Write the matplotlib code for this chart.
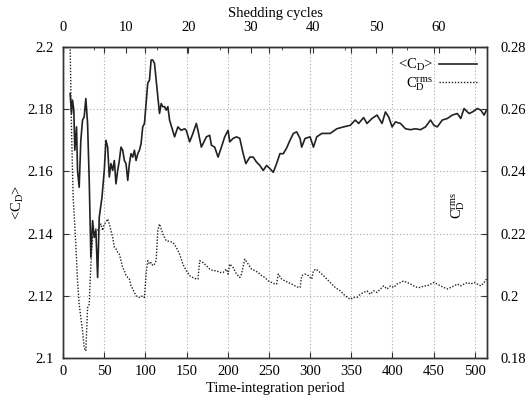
import matplotlib
matplotlib.use("Agg")
import matplotlib.pyplot as plt
from matplotlib.ticker import MultipleLocator, FixedLocator

plt.rcParams['font.family'] = ['Liberation Serif', 'DejaVu Serif']
plt.rcParams['mathtext.fontset'] = 'custom'
plt.rcParams['mathtext.rm'] = 'Liberation Serif'
plt.rcParams['mathtext.it'] = 'Liberation Serif:italic'
plt.rcParams['font.size'] = 10.5

# time-averaged drag coefficient <C_D> (left axis)
t_mean = [8.5, 10.2, 11.4, 13.0, 14.2, 16.3, 17.5, 19.5, 21.5, 23.6, 25.6, 27.6,
          29.7, 31.7, 33.7, 35.8, 37.8, 39.8, 41.9, 43.9, 47.2, 50.0, 52.0, 54.1,
          56.1, 58.1, 60.2, 62.2, 64.2, 66.3, 68.3, 70.3, 72.4, 74.4, 76.4, 78.5,
          80.5, 82.5, 84.6, 86.6, 88.6, 90.7, 92.7, 94.7, 96.7, 98.8, 100.8, 102.8,
          104.9, 106.9, 108.9, 111.0, 113.0, 115.0, 117.1, 119.1, 121.1, 123.2,
          125.2, 127.2, 129.3, 135.4, 139.4, 143.5, 147.6, 149.6, 153.7, 157.7,
          161.8, 163.8, 167.9, 170.0, 174.0, 178.1, 180.1, 184.1, 188.2, 192.3,
          196.3, 200.4, 202.4, 206.5, 210.6, 214.6, 218.7, 222.0, 226.8, 230.9,
          234.9, 239.0, 243.1, 247.2, 251.2, 255.3, 259.3, 263.4, 267.5, 271.5,
          275.6, 279.7, 283.7, 287.8, 289.8, 293.9, 300.0, 304.1, 308.1, 314.2,
          324.4, 332.5, 340.7, 348.8, 354.9, 359.0, 365.0, 369.1, 375.2, 381.3,
          387.4, 391.5, 395.5, 399.6, 403.7, 409.8, 415.9, 422.0, 428.0, 434.1,
          440.2, 446.3, 450.4, 454.5, 460.6, 466.7, 472.8, 478.9, 483.0, 487.0,
          493.1, 497.2, 503.3, 507.3, 511.4, 514.2]
cd_mean = [2.1850, 2.1786, 2.1829, 2.1797, 2.1668, 2.1743, 2.1603, 2.1549, 2.1700,
           2.1765, 2.1775, 2.1834, 2.1754, 2.1571, 2.1324, 2.1442, 2.1388, 2.1410,
           2.1259, 2.1453, 2.1517, 2.1603, 2.1700, 2.1678, 2.1582, 2.1625, 2.1603,
           2.1635, 2.1560, 2.1603, 2.1635, 2.1678, 2.1668, 2.1635, 2.1625, 2.1571,
           2.1625, 2.1657, 2.1646, 2.1668, 2.1635, 2.1657, 2.1668, 2.1689, 2.1743,
           2.1754, 2.1818, 2.1883, 2.1894, 2.1958, 2.1958, 2.1947, 2.1894, 2.1840,
           2.1786, 2.1818, 2.1808, 2.1808, 2.1797, 2.1808, 2.1765, 2.1711, 2.1743,
           2.1732, 2.1737, 2.1732, 2.1695, 2.1722, 2.1754, 2.1732, 2.1678, 2.1689,
           2.1711, 2.1716, 2.1684, 2.1678, 2.1646, 2.1678, 2.1711, 2.1732, 2.1695,
           2.1706, 2.1711, 2.1706, 2.1657, 2.1625, 2.1646, 2.1646, 2.1630, 2.1619,
           2.1603, 2.1619, 2.1609, 2.1597, 2.1625, 2.1657, 2.1657, 2.1675, 2.1700,
           2.1722, 2.1727, 2.1706, 2.1678, 2.1706, 2.1711, 2.1678, 2.1711, 2.1722,
           2.1722, 2.1737, 2.1743, 2.1748, 2.1765, 2.1754, 2.1773, 2.1754, 2.1770,
           2.1781, 2.1754, 2.1791, 2.1775, 2.1743, 2.1759, 2.1754, 2.1737, 2.1734,
           2.1737, 2.1734, 2.1743, 2.1765, 2.1748, 2.1743, 2.1765, 2.1770, 2.1781,
           2.1786, 2.1770, 2.1802, 2.1786, 2.1791, 2.1802, 2.1797, 2.1781, 2.1797]

# rms drag coefficient C_D^rms (right axis)
t_rms = [7.5, 8.5, 10.2, 12.2, 15.4, 17.5, 19.5, 21.5, 23.6, 25.6, 27.6, 29.7,
         31.7, 33.7, 35.8, 37.8, 39.8, 41.9, 43.9, 45.9, 48.0, 50.0, 52.0, 54.1,
         56.1, 58.1, 60.2, 62.2, 64.2, 66.3, 68.3, 70.3, 72.4, 74.4, 76.4, 78.5,
         80.5, 82.5, 84.6, 86.6, 88.6, 92.7, 96.7, 98.8, 100.8, 102.8, 104.9,
         106.9, 108.9, 111.0, 113.0, 115.0, 117.1, 121.1, 125.2, 129.3, 133.3,
         137.4, 141.5, 145.5, 149.6, 153.7, 157.7, 161.8, 163.8, 165.9, 170.0,
         174.0, 178.1, 182.1, 186.2, 190.2, 194.3, 198.4, 200.4, 202.4, 206.5,
         210.6, 214.6, 216.7, 220.7, 224.8, 228.9, 232.9, 237.0, 241.1, 245.1,
         249.2, 253.3, 257.3, 259.3, 261.4, 265.4, 269.5, 273.6, 277.6, 281.7,
         285.8, 287.8, 289.8, 293.9, 298.0, 302.0, 304.1, 307.3, 312.2, 316.3,
         320.3, 324.4, 330.5, 336.6, 342.7, 348.8, 352.8, 356.9, 361.0, 365.0,
         369.1, 373.2, 377.2, 381.3, 385.4, 389.4, 393.5, 397.6, 401.6, 405.7,
         409.8, 413.8, 417.9, 422.0, 426.0, 430.1, 434.1, 438.2, 442.3, 446.3,
         450.4, 454.5, 458.5, 462.6, 466.7, 470.7, 474.8, 478.9, 483.0, 487.0,
         491.1, 495.1, 499.2, 503.3, 507.3, 511.4, 514.2]
cd_rms = [0.2900, 0.2812, 0.2532, 0.2317, 0.2167, 0.2048, 0.1973, 0.1930, 0.1887,
          0.1833, 0.1823, 0.1962, 0.1973, 0.2102, 0.2188, 0.2199, 0.2215, 0.2210,
          0.2220, 0.2231, 0.2210, 0.2231, 0.2236, 0.2247, 0.2231, 0.2210, 0.2188,
          0.2156, 0.2151, 0.2140, 0.2134, 0.2113, 0.2091, 0.2081, 0.2065, 0.2059,
          0.2054, 0.2032, 0.2022, 0.2011, 0.2000, 0.1995, 0.2000, 0.1995, 0.2070,
          0.2113, 0.2102, 0.2107, 0.2097, 0.2102, 0.2113, 0.2210, 0.2231, 0.2199,
          0.2177, 0.2175, 0.2172, 0.2156, 0.2134, 0.2102, 0.2081, 0.2065, 0.2059,
          0.2054, 0.2054, 0.2113, 0.2107, 0.2097, 0.2086, 0.2081, 0.2081, 0.2075,
          0.2075, 0.2086, 0.2070, 0.2102, 0.2091, 0.2070, 0.2059, 0.2070, 0.2118,
          0.2102, 0.2086, 0.2081, 0.2075, 0.2065, 0.2059, 0.2048, 0.2043, 0.2038,
          0.2038, 0.2070, 0.2054, 0.2048, 0.2043, 0.2038, 0.2032, 0.2027, 0.2027,
          0.2065, 0.2070, 0.2065, 0.2054, 0.2081, 0.2086, 0.2075, 0.2065, 0.2054,
          0.2043, 0.2027, 0.2016, 0.2000, 0.1989, 0.1995, 0.1995, 0.2005, 0.2011,
          0.2016, 0.2005, 0.2016, 0.2011, 0.2022, 0.2032, 0.2022, 0.2032, 0.2027,
          0.2038, 0.2043, 0.2048, 0.2043, 0.2038, 0.2032, 0.2027, 0.2027, 0.2032,
          0.2032, 0.2038, 0.2043, 0.2038, 0.2032, 0.2027, 0.2022, 0.2027, 0.2032,
          0.2038, 0.2032, 0.2038, 0.2043, 0.2038, 0.2043, 0.2038, 0.2032, 0.2043,
          0.2054]

cycle_ticks = [0, 10, 20, 30, 40, 50, 60]
period_per_cycle = 7.6  # time units per shedding cycle

fig = plt.figure(figsize=(5.26, 4.01), dpi=100)
ax = fig.add_axes([0.12, 0.107, 0.806, 0.776])
ax2 = ax.twinx()

l1, = ax.plot(t_mean, cd_mean, color='#222222', lw=1.2, label=r'<C$_{\mathrm{D}}$>')
l2, = ax2.plot(t_rms, cd_rms, color='#222222', lw=1.0, ls=(0, (1, 1.2)),
               label=r'C$_{\mathrm{D}}^{\mathrm{rms}}$')

ax.set_xlim(0, 515)
ax.set_ylim(2.1, 2.2)
ax2.set_ylim(0.18, 0.28)
ax.xaxis.set_major_locator(MultipleLocator(50))
ax.yaxis.set_major_locator(MultipleLocator(0.02))
ax2.yaxis.set_major_locator(MultipleLocator(0.02))
ax.yaxis.set_major_formatter(plt.FuncFormatter(lambda v, p: f'{v:g}'))
ax2.yaxis.set_major_formatter(plt.FuncFormatter(lambda v, p: f'{v:g}'))

ax.grid(True, color='#aaaaaa', ls=(0, (1, 2)), lw=0.8)
ax.tick_params(axis='x', direction='in', top=True, length=4, color='#333333', pad=5)
ax.tick_params(axis='y', direction='in', length=4, color='#333333', pad=7)
ax2.tick_params(direction='in', length=4, color='#333333', pad=10)
for a in (ax, ax2):
    for s in a.spines.values():
        s.set_color('#333333')
        s.set_linewidth(1.0)

ax.set_xlabel('Time-integration period', labelpad=3)
ax.set_ylabel(r'<C$_{\mathrm{D}}$>', labelpad=1)

top = ax.secondary_xaxis('top', functions=(lambda t: t / period_per_cycle,
                                           lambda c: c * period_per_cycle))
top.xaxis.set_major_locator(FixedLocator(cycle_ticks))
top.xaxis.set_minor_locator(FixedLocator([c + 5 for c in cycle_ticks]))
top.tick_params(direction='in', length=4, color='#333333', pad=9)
top.tick_params(which='minor', direction='in', length=2, color='#333333')
top.set_xlabel('Shedding cycles', labelpad=3)
top.spines['top'].set_color('#333333')

ax2.text(0.932, 0.49, r'C$_{\mathrm{D}}^{\mathrm{rms}}$', transform=ax.transAxes,
         rotation=90, ha='center', va='center')

leg = ax.legend(handles=[l1, l2], loc='upper right', markerfirst=False, frameon=False,
                handlelength=2.6, borderaxespad=0.3, labelspacing=0.1,
                handletextpad=0.4)

fig.savefig('out.png', dpi=100)
